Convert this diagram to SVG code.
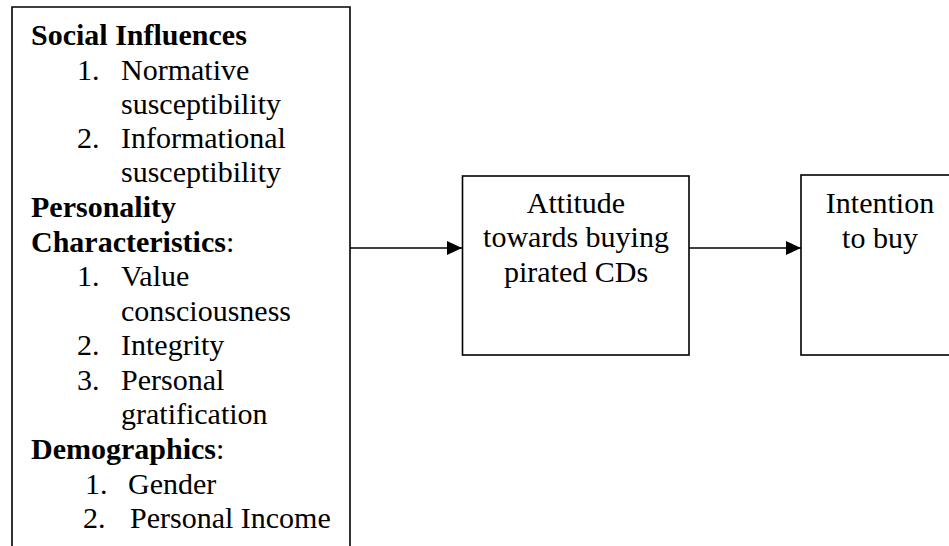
<svg xmlns="http://www.w3.org/2000/svg" width="949" height="546" viewBox="0 0 949 546">
<defs>
<marker id="arrow" markerWidth="15" markerHeight="14" viewBox="0 0 15 14" refX="15" refY="7" orient="auto" markerUnits="userSpaceOnUse">
<path d="M0,0 L15,7 L0,14 Z" fill="#000"/>
</marker>
</defs>
<style>
text{font-family:"Liberation Serif","Times New Roman",serif;font-size:30px;fill:#000}
.b{font-weight:bold}
.c{text-anchor:middle}
.box{fill:#fff;stroke:#000;stroke-width:1.6}
.edge{fill:none;stroke:#000;stroke-width:1.6}
</style>
<rect width="949" height="546" fill="#fff"/>
<g id="factors">
<path class="box" d="M12,546 V7 H350 V546" fill="none"/>
<text x="31" y="45" class="b">Social Influences</text>
<text x="77" y="80">1.</text><text x="121" y="80">Normative</text>
<text x="121" y="114">susceptibility</text>
<text x="77" y="148">2.</text><text x="121" y="148">Informational</text>
<text x="121" y="182">susceptibility</text>
<text x="31" y="217" class="b">Personality</text>
<text x="31" y="252"><tspan class="b">Characteristics</tspan>:</text>
<text x="77" y="286">1.</text><text x="121" y="286">Value</text>
<text x="121" y="321">consciousness</text>
<text x="77" y="355">2.</text><text x="121" y="355">Integrity</text>
<text x="77" y="390">3.</text><text x="121" y="390">Personal</text>
<text x="121" y="424">gratification</text>
<text x="31" y="459"><tspan class="b">Demographics</tspan>:</text>
<text x="85" y="494">1.</text><text x="128" y="494">Gender</text>
<text x="83" y="528">2.</text><text x="130" y="528">Personal Income</text>
</g>
<g id="attitude">
<rect class="box" x="462.5" y="176" width="226.5" height="179"/>
<text class="c" x="576" y="213">Attitude</text>
<text class="c" x="576" y="247">towards buying</text>
<text class="c" x="576" y="282">pirated CDs</text>
</g>
<g id="intention">
<rect class="box" x="801" y="175" width="170" height="180"/>
<text class="c" x="880" y="213">Intention</text>
<text class="c" x="880" y="248">to buy</text>
</g>
<g id="connectors">
<line class="edge" x1="350" y1="248" x2="462" y2="248" marker-end="url(#arrow)"/>
<line class="edge" x1="689" y1="248" x2="801" y2="248" marker-end="url(#arrow)"/>
</g>
</svg>
